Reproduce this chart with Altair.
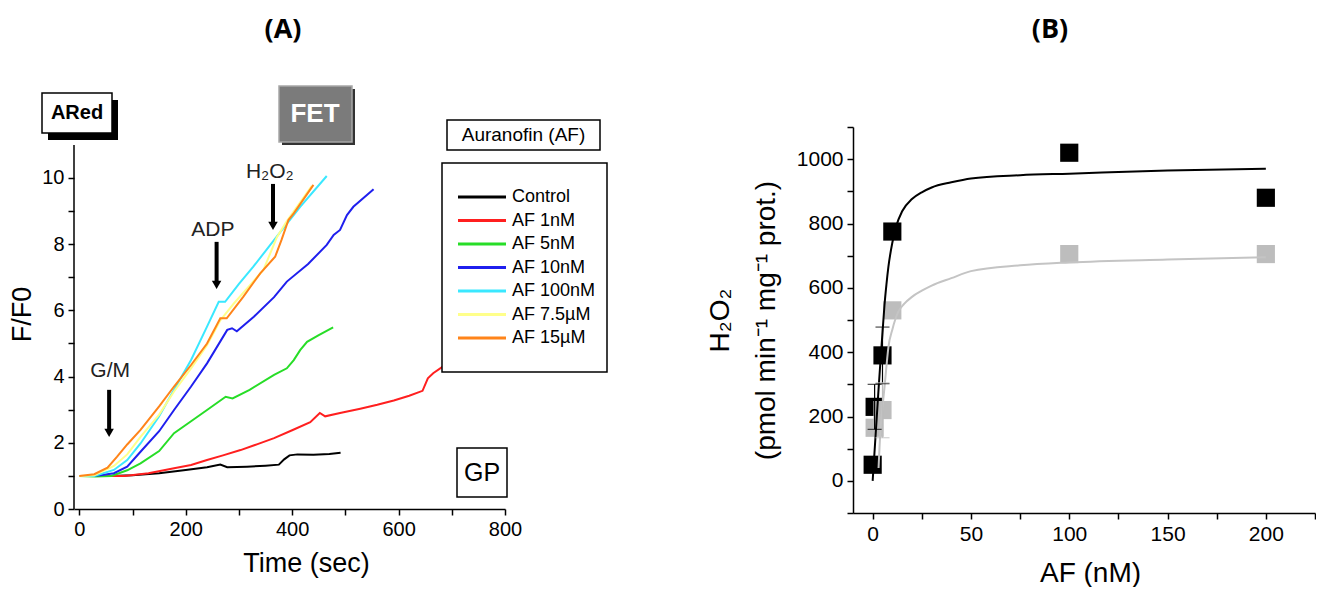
import altair as alt
import pandas as pd

FONT = "Liberation Sans"

# ---------------- Panel A data (F/F0 vs time) ----------------
SERIES = ["Control", "AF 1nM", "AF 5nM", "AF 10nM", "AF 100nM", "AF 7.5µM", "AF 15µM"]
COLORS = ["#000000", "#ff1f1f", "#27dd27", "#1f1fee", "#3ae8ff", "#ffff8a", "#ff8419"]

T_CTRL = [0, 30, 60, 100, 150, 200, 240, 265, 278, 315, 350, 375, 385, 395, 410, 440, 470, 491]
V_CTRL = [1.0, 1.0, 1.0, 1.02, 1.08, 1.18, 1.26, 1.34, 1.26, 1.28, 1.31, 1.34, 1.5, 1.62, 1.65, 1.64, 1.66, 1.70]

T_1NM = [0, 40, 85, 130, 178, 210, 240, 270, 303, 335, 366, 400, 434, 452, 462, 490, 528, 560, 591, 620, 645, 655, 665, 683, 700, 720]
V_1NM = [1.0, 1.0, 1.0, 1.08, 1.23, 1.33, 1.48, 1.62, 1.78, 1.96, 2.14, 2.38, 2.62, 2.9, 2.8, 2.9, 3.03, 3.15, 3.28, 3.42, 3.57, 3.95, 4.1, 4.3, 4.45, 4.6]

T_5NM = [0, 30, 60, 90, 115, 150, 178, 210, 240, 275, 288, 320, 366, 390, 403, 415, 428, 450, 477]
V_5NM = [1.0, 0.98, 1.0, 1.17, 1.38, 1.75, 2.29, 2.65, 2.99, 3.39, 3.34, 3.6, 4.05, 4.25, 4.5, 4.8, 5.05, 5.25, 5.49]

T_10NM = [15, 40, 65, 90, 115, 150, 178, 210, 240, 278, 287, 296, 328, 366, 390, 430, 465, 478, 490, 503, 515, 553]
V_10NM = [1.0, 1.02, 1.08, 1.28, 1.73, 2.35, 2.99, 3.7, 4.4, 5.41, 5.46, 5.37, 5.81, 6.4, 6.87, 7.4, 7.98, 8.28, 8.43, 8.88, 9.13, 9.66]

T_100NM = [0, 28, 65, 90, 115, 150, 178, 210, 240, 262, 274, 300, 327, 371, 415, 465]
V_100NM = [1.0, 1.0, 1.18, 1.48, 1.98, 2.8, 3.6, 4.5, 5.51, 6.26, 6.26, 6.8, 7.32, 8.23, 9.13, 10.06]

T_7_5UM = [0, 28, 65, 90, 115, 150, 178, 210, 240, 265, 290, 320, 346, 371, 390, 437]
V_7_5UM = [1.0, 1.02, 1.3, 1.65, 2.18, 2.85, 3.55, 4.25, 4.95, 5.7, 6.2, 6.75, 7.22, 8.2, 8.7, 9.76]

T_15UM = [0, 28, 53, 71, 90, 115, 150, 178, 210, 240, 265, 277, 308, 340, 368, 380, 393, 403, 440]
V_15UM = [1.0, 1.05, 1.25, 1.58, 1.95, 2.39, 3.1, 3.7, 4.35, 5.0, 5.76, 5.76, 6.41, 7.12, 7.62, 8.13, 8.73, 8.93, 9.79]

SERIES_T = [T_CTRL, T_1NM, T_5NM, T_10NM, T_100NM, T_7_5UM, T_15UM]
SERIES_V = [V_CTRL, V_1NM, V_5NM, V_10NM, V_100NM, V_7_5UM, V_15UM]

# arrows / additions
ARROW_LABELS = ["G/M", "ADP", "H₂O₂"]
ARROW_T = [56, 258, 364]
ARROW_TOP = [3.6, 8.07, 9.82]
ARROW_TIP = [2.15, 6.62, 8.4]
LABEL_T = [58, 251, 358]
LABEL_V = [4.17, 8.44, 10.18]

# ---------------- Panel B data (H2O2 vs AF) ----------------
AF_BLACK = [0, 1, 5, 10, 100, 200]
H2O2_BLACK = [50, 230, 390, 775, 1020, 880]
AF_GREY = [1, 5, 10, 100, 200]
H2O2_GREY = [165, 220, 530, 705, 705]

ERR_AF = [1, 5, 5]
ERR_LO = [160, 302, 134]
ERR_HI = [300, 478, 305]
ERR_GROUP = ["black", "black", "grey"]

FIT_AF_BLACK = [0, 1, 2, 3, 4, 5, 6, 7, 8, 10, 12, 15, 20, 25, 30, 40, 50, 75, 100, 150, 200]
FIT_H_BLACK = [0, 95, 190, 285, 375, 460, 545, 610, 665, 740, 792, 838, 876, 897, 912, 928, 940, 950, 955, 965, 970]
FIT_AF_GREY = [3, 4, 5, 6, 7, 8, 10, 13, 16, 20, 25, 30, 40, 50, 75, 100, 150, 200]
FIT_H_GREY = [40, 160, 230, 290, 355, 415, 470, 525, 550, 572, 591, 607, 630, 652, 670, 679, 688, 695]

DUMMY = pd.DataFrame({"d": [0]})


def box(x1, x2, y1, y2, fill, stroke=None, sw=1.5):
    kw = dict(fill=fill, strokeWidth=sw)
    if stroke is not None:
        kw["stroke"] = stroke
    return alt.Chart(DUMMY).mark_rect(**kw).encode(
        x=alt.value(x1), x2=alt.value(x2), y=alt.value(y1), y2=alt.value(y2))


def label(x, y, text, size, weight="normal", color="black", font=FONT, align="center"):
    return alt.Chart(DUMMY).mark_text(
        text=text, fontSize=size, fontWeight=weight, color=color, font=font,
        align=align, baseline="middle").encode(x=alt.value(x), y=alt.value(y))


# ---------------- Panel A ----------------
axA_x = alt.Axis(title="Time (sec)", values=list(range(0, 801, 100)),
                 labelExpr="datum.value % 200 === 0 ? datum.label : ''",
                 labelFontSize=20, titleFontSize=27, titleX=232, titleY=54,
                 titleBaseline="middle", titleAlign="center",
                 labelFlush=False, labelOverlap=False, labelPadding=4)
axA_y = alt.Axis(title="F/F0", values=list(range(0, 11)),
                 labelExpr="datum.value % 2 === 0 ? datum.label : ''",
                 labelFontSize=20, titleFontSize=27, titleX=-52, titleY=187,
                 titleAngle=270, titleBaseline="middle", titleAlign="center",
                 domain=False, labelFlush=False, labelOverlap=False, labelPadding=4)

xA = alt.X("t:Q", scale=alt.Scale(domain=[-10, 800], nice=False, zero=False), axis=axA_x)
yA = alt.Y("v:Q", scale=alt.Scale(domain=[0, 11.54], nice=False, zero=False), axis=axA_y)

layersA = []
# y axis line from 0 to 11
layersA.append(alt.Chart(pd.DataFrame({"t": [-10], "v": [0], "v2": [11]}))
               .mark_rule(color="black", strokeWidth=1.5)
               .encode(x=xA, y=yA, y2="v2:Q"))

for name, col, ts, vs in zip(SERIES, COLORS, SERIES_T, SERIES_V):
    df = pd.DataFrame({"t": ts, "v": vs, "series": name})
    layersA.append(alt.Chart(df).mark_line(color=col, strokeWidth=2).encode(x=xA, y=yA))

arrows = pd.DataFrame({"t": ARROW_T, "v": ARROW_TOP, "v2": ARROW_TIP})
layersA.append(alt.Chart(arrows).mark_rule(color="black", strokeWidth=4, y2Offset=-8)
               .encode(x=xA, y=yA, y2="v2:Q"))
heads = pd.DataFrame({"t": ARROW_T, "v": ARROW_TIP})
layersA.append(alt.Chart(heads).mark_point(shape="triangle-down", filled=True, color="black",
                                           size=90, opacity=1, yOffset=-5)
               .encode(x=xA, y=yA))
labs = pd.DataFrame({"t": LABEL_T, "v": LABEL_V, "txt": ARROW_LABELS})
layersA.append(alt.Chart(labs).mark_text(fontSize=21, font=FONT, color="#222222")
               .encode(x=xA, y=yA, text="txt:N"))

# bounds anchor (top-left of the whole figure)
layersA.append(box(-66, -65, -119, -118, "white"))
# panel title
layersA.append(label(209, -97, "(A)", 27, weight="bold", font="Open Sans"))
# ARed box
layersA.append(box(-26, 44, -27, 13, "black"))
layersA.append(box(-32, 38, -34, 6, "white", "black", 1.5))
layersA.append(label(3, -14, "ARed", 20, weight="bold"))
# FET box
layersA.append(box(208, 281, -38, 18, "#333333"))
layersA.append(box(205, 278, -41, 15, "#7b7b7b", "#a8a8a8", 1.5))
layersA.append(label(241, -13, "FET", 26, weight="bold", color="white"))
# Auranofin title box
layersA.append(box(373, 526, -7, 23, "white", "black", 1.5))
layersA.append(label(449.5, 8, "Auranofin (AF)", 19))
# legend box
layersA.append(box(368, 533, 36, 245, "white", "black", 1.5))
for i, (name, col) in enumerate(zip(SERIES, COLORS)):
    yy = 70 + 23.5 * i
    layersA.append(alt.Chart(DUMMY).mark_rule(color=col, strokeWidth=3)
                   .encode(x=alt.value(384), x2=alt.value(432), y=alt.value(yy)))
    layersA.append(label(438, yy, name, 18, align="left"))
# GP box
layersA.append(box(383, 433, 321, 370, "white", "black", 1.5))
layersA.append(label(408, 346, "GP", 25))

panelA = alt.layer(*layersA).properties(width=431, height=382)

# ---------------- Panel B ----------------
axB_x = alt.Axis(title="AF (nM)", values=list(range(0, 226, 25)),
                 labelExpr="datum.value % 50 === 0 ? datum.label : ''",
                 labelFontSize=21, titleFontSize=28, titleX=237, titleY=60,
                 titleBaseline="middle", titleAlign="center",
                 labelFlush=False, labelOverlap=False, labelPadding=4)
axB_y = alt.Axis(title=["H₂O₂", "(pmol min⁻¹ mg⁻¹ prot.)"], values=list(range(-100, 1101, 100)),
                 labelExpr="datum.value >= 0 && datum.value % 200 === 0 ? datum.label : ''",
                 labelFontSize=21, titleFontSize=28, titleX=-133, titleY=193,
                 titleAngle=270, titleBaseline="middle", titleAlign="center",
                 titleLineHeight=46, labelFlush=False, labelOverlap=False, labelPadding=4)

xB = alt.X("af:Q", scale=alt.Scale(domain=[-10, 225], nice=False, zero=False), axis=axB_x)
yB = alt.Y("h:Q", scale=alt.Scale(domain=[-100, 1100], nice=False, zero=False), axis=axB_y)

layersB = []
layersB.append(alt.Chart(pd.DataFrame({"af": AF_BLACK, "h": H2O2_BLACK}))
               .mark_square(size=330, color="black", opacity=1).encode(x=xB, y=yB))
layersB.append(alt.Chart(pd.DataFrame({"af": AF_GREY, "h": H2O2_GREY}))
               .mark_square(size=330, color="#bdbdbd", opacity=1).encode(x=xB, y=yB))
layersB.append(alt.Chart(pd.DataFrame({"af": FIT_AF_BLACK, "h": FIT_H_BLACK}))
               .mark_line(color="black", strokeWidth=2, interpolate="monotone").encode(x=xB, y=yB))
layersB.append(alt.Chart(pd.DataFrame({"af": FIT_AF_GREY, "h": FIT_H_GREY}))
               .mark_line(color="#c4c4c4", strokeWidth=2, interpolate="monotone").encode(x=xB, y=yB))
err = pd.DataFrame({"af": ERR_AF, "h": ERR_LO, "h2": ERR_HI, "g": ERR_GROUP})
caps = pd.DataFrame({"af": ERR_AF + ERR_AF, "h": ERR_LO + ERR_HI, "g": ERR_GROUP + ERR_GROUP})
errcol = alt.Color("g:N", scale=alt.Scale(domain=["black", "grey"], range=["black", "#bdbdbd"]), legend=None)
layersB.append(alt.Chart(err).mark_rule(strokeWidth=1.2).encode(x=xB, y=yB, y2="h2:Q", color=errcol))
layersB.append(alt.Chart(caps).mark_tick(orient="horizontal", size=14, thickness=1.2)
               .encode(x=xB, y=yB, color=errcol))
layersB.append(label(197, -97, "(B)", 27, weight="bold", font="Open Sans"))

panelB = alt.layer(*layersB).properties(width=462, height=386)

chart = (alt.hconcat(panelA, panelB, spacing=348, bounds="flush")
         .properties(padding={"left": 0, "top": 0, "right": 0, "bottom": 0}, background="white")
         .configure_view(stroke=None)
         .configure_axis(grid=False, format="d", labelFont=FONT, labelColor="black",
                         domainColor="black", tickColor="black", tickWidth=1.5,
                         domainWidth=1.5, tickSize=6, titleFont=FONT,
                         titleFontWeight="normal", titleColor="black"))

chart.save("out.html", embed_options={"renderer": "svg", "actions": False})
